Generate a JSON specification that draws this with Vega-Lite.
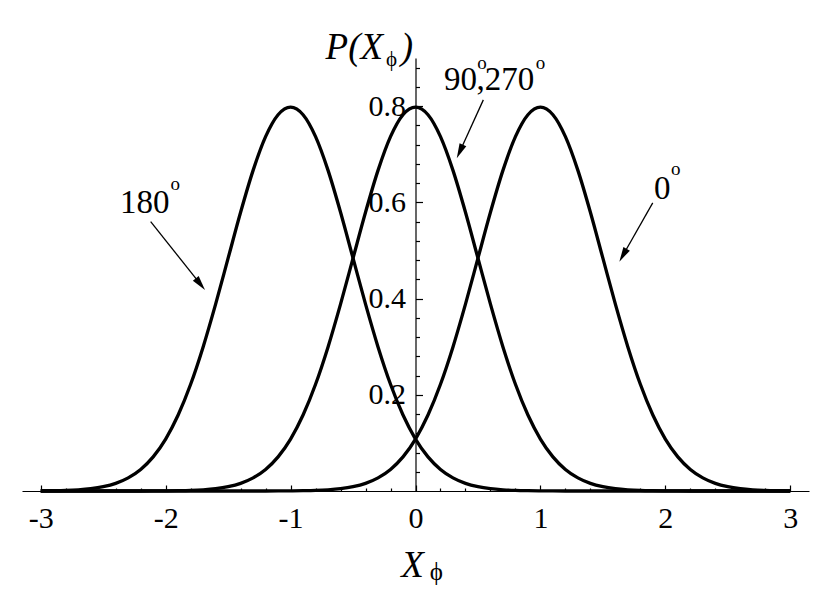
{
  "$schema": "https://vega.github.io/schema/vega-lite/v6.json",
  "width": 787,
  "height": 433,
  "autosize": {"type": "none"},
  "padding": {"left": 22, "top": 58, "right": 21, "bottom": 105},
  "background": "white",
  "config": {
    "view": {"stroke": null},
    "font": "Liberation Serif",
    "axis": {"domainColor": "black", "tickColor": "black", "labelColor": "black", "domainWidth": 1.2, "tickWidth": 1.2, "labelFont": "Liberation Serif", "labelFontSize": 30, "grid": false}
  },
  "datasets": {
    "curves": [
      {"x": -3.0, "a": 0.0003, "b": 0, "c": 0},
      {"x": -2.9, "a": 0.0006, "b": 0, "c": 0},
      {"x": -2.8, "a": 0.0012, "b": 0, "c": 0},
      {"x": -2.7, "a": 0.0025, "b": 0, "c": 0},
      {"x": -2.6, "a": 0.0048, "b": 0, "c": 0},
      {"x": -2.5, "a": 0.0089, "b": 0, "c": 0},
      {"x": -2.4, "a": 0.0158, "b": 0, "c": 0},
      {"x": -2.3, "a": 0.0272, "b": 0, "c": 0},
      {"x": -2.2, "a": 0.0448, "b": 0, "c": 0},
      {"x": -2.1, "a": 0.0709, "b": 0.0001, "c": 0},
      {"x": -2.0, "a": 0.1080, "b": 0.0003, "c": 0},
      {"x": -1.9, "a": 0.1579, "b": 0.0006, "c": 0},
      {"x": -1.8, "a": 0.2218, "b": 0.0012, "c": 0},
      {"x": -1.7, "a": 0.2995, "b": 0.0025, "c": 0},
      {"x": -1.6, "a": 0.3884, "b": 0.0048, "c": 0},
      {"x": -1.5, "a": 0.4839, "b": 0.0089, "c": 0},
      {"x": -1.4, "a": 0.5794, "b": 0.0158, "c": 0},
      {"x": -1.3, "a": 0.6664, "b": 0.0272, "c": 0},
      {"x": -1.2, "a": 0.7365, "b": 0.0448, "c": 0},
      {"x": -1.1, "a": 0.7821, "b": 0.0709, "c": 0.0001},
      {"x": -1.0, "a": 0.7979, "b": 0.1080, "c": 0.0003},
      {"x": -0.9, "a": 0.7821, "b": 0.1579, "c": 0.0006},
      {"x": -0.8, "a": 0.7365, "b": 0.2218, "c": 0.0012},
      {"x": -0.7, "a": 0.6664, "b": 0.2995, "c": 0.0025},
      {"x": -0.6, "a": 0.5794, "b": 0.3884, "c": 0.0048},
      {"x": -0.5, "a": 0.4839, "b": 0.4839, "c": 0.0089},
      {"x": -0.4, "a": 0.3884, "b": 0.5794, "c": 0.0158},
      {"x": -0.3, "a": 0.2995, "b": 0.6664, "c": 0.0272},
      {"x": -0.2, "a": 0.2218, "b": 0.7365, "c": 0.0448},
      {"x": -0.1, "a": 0.1579, "b": 0.7821, "c": 0.0709},
      {"x": 0.0, "a": 0.1080, "b": 0.7979, "c": 0.1080},
      {"x": 0.1, "a": 0.0709, "b": 0.7821, "c": 0.1579},
      {"x": 0.2, "a": 0.0448, "b": 0.7365, "c": 0.2218},
      {"x": 0.3, "a": 0.0272, "b": 0.6664, "c": 0.2995},
      {"x": 0.4, "a": 0.0158, "b": 0.5794, "c": 0.3884},
      {"x": 0.5, "a": 0.0089, "b": 0.4839, "c": 0.4839},
      {"x": 0.6, "a": 0.0048, "b": 0.3884, "c": 0.5794},
      {"x": 0.7, "a": 0.0025, "b": 0.2995, "c": 0.6664},
      {"x": 0.8, "a": 0.0012, "b": 0.2218, "c": 0.7365},
      {"x": 0.9, "a": 0.0006, "b": 0.1579, "c": 0.7821},
      {"x": 1.0, "a": 0.0003, "b": 0.1080, "c": 0.7979},
      {"x": 1.1, "a": 0.0001, "b": 0.0709, "c": 0.7821},
      {"x": 1.2, "a": 0, "b": 0.0448, "c": 0.7365},
      {"x": 1.3, "a": 0, "b": 0.0272, "c": 0.6664},
      {"x": 1.4, "a": 0, "b": 0.0158, "c": 0.5794},
      {"x": 1.5, "a": 0, "b": 0.0089, "c": 0.4839},
      {"x": 1.6, "a": 0, "b": 0.0048, "c": 0.3884},
      {"x": 1.7, "a": 0, "b": 0.0025, "c": 0.2995},
      {"x": 1.8, "a": 0, "b": 0.0012, "c": 0.2218},
      {"x": 1.9, "a": 0, "b": 0.0006, "c": 0.1579},
      {"x": 2.0, "a": 0, "b": 0.0003, "c": 0.1080},
      {"x": 2.1, "a": 0, "b": 0.0001, "c": 0.0709},
      {"x": 2.2, "a": 0, "b": 0, "c": 0.0448},
      {"x": 2.3, "a": 0, "b": 0, "c": 0.0272},
      {"x": 2.4, "a": 0, "b": 0, "c": 0.0158},
      {"x": 2.5, "a": 0, "b": 0, "c": 0.0089},
      {"x": 2.6, "a": 0, "b": 0, "c": 0.0048},
      {"x": 2.7, "a": 0, "b": 0, "c": 0.0025},
      {"x": 2.8, "a": 0, "b": 0, "c": 0.0012},
      {"x": 2.9, "a": 0, "b": 0, "c": 0.0006},
      {"x": 3.0, "a": 0, "b": 0, "c": 0.0003}
    ],
    "arrows": [
      {"id": "180", "x0": -2.120, "y0": 0.560, "x1": -1.722, "y1": 0.430},
      {"id": "0", "x0": 1.899, "y0": 0.599, "x1": 1.661, "y1": 0.490},
      {"id": "90", "x0": 0.543, "y0": 0.813, "x1": 0.355, "y1": 0.7056}
    ],
    "texts": [
      {"kind": "num", "t": "180", "x": -2.366, "y": 0.5773},
      {"kind": "num", "t": "0", "x": 1.910, "y": 0.6065},
      {"kind": "num", "t": "90", "x": 0.228, "y": 0.8337},
      {"kind": "num", "t": ",270", "x": 0.488, "y": 0.8337},
      {"kind": "deg", "t": "o", "x": -1.962, "y": 0.6258},
      {"kind": "deg", "t": "o", "x": 2.046, "y": 0.657},
      {"kind": "deg", "t": "o", "x": 0.494, "y": 0.8773},
      {"kind": "deg", "t": "o", "x": 0.962, "y": 0.8773},
      {"kind": "ital", "t": "P(X", "x": -0.720, "y": 0.898},
      {"kind": "ital", "t": ")", "x": -0.118, "y": 0.898},
      {"kind": "ital", "t": "X", "x": -0.115, "y": -0.178},
      {"kind": "subtop", "t": "ϕ", "x": -0.236, "y": 0.8836},
      {"kind": "subbot", "t": "ϕ", "x": 0.114, "y": -0.185}
    ]
  },
  "resolve": {"axis": {"x": "independent", "y": "independent"}},
  "layer": [
    {
      "data": {"name": "curves"},
      "transform": [{"fold": ["a", "b", "c"], "as": ["curve", "p"]}],
      "mark": {"type": "line", "color": "black", "strokeWidth": 3.3, "interpolate": "monotone"},
      "encoding": {
        "x": {"field": "x", "type": "quantitative", "scale": {"domain": [-3.15, 3.15], "nice": false, "zero": false},
          "axis": {"orient": "bottom", "title": null, "values": [-3, -2, -1, 0, 1, 2, 3], "tickSize": -6, "labelPadding": 18, "labelFlush": false, "labelOverlap": false, "labelFont": "Times New Roman, Liberation Serif, serif",
            "labelExpr": "datum.value < 0 ? '-' + abs(datum.value) : '' + datum.value"}},
        "y": {"field": "p", "type": "quantitative", "scale": {"domain": [0, 0.9], "nice": false, "zero": false},
          "axis": {"orient": "left", "title": null, "offset": -393.5, "values": [0.2, 0.4, 0.6, 0.8], "tickSize": -7, "labelPadding": 17, "labelAlign": "right", "labelBaseline": "middle", "labelFlush": false, "labelOverlap": false, "format": ".1f", "labelFont": "Times New Roman, Liberation Serif, serif"}},
        "detail": {"field": "curve"}
      }
    },
    {
      "data": {"name": "arrows"},
      "mark": {"type": "rule", "color": "black", "strokeWidth": 1.3},
      "encoding": {
        "x": {"field": "x0", "type": "quantitative",
          "axis": {"orient": "bottom", "title": null, "values": [-2.8, -2.6, -2.4, -2.2, -1.8, -1.6, -1.4, -1.2, -0.8, -0.6, -0.4, -0.2, 0.2, 0.4, 0.6, 0.8, 1.2, 1.4, 1.6, 1.8, 2.2, 2.4, 2.6, 2.8], "tickSize": -3, "labels": false, "domain": false}},
        "y": {"field": "y0", "type": "quantitative",
          "axis": {"orient": "left", "title": null, "offset": -393.5, "values": [0.04, 0.08, 0.12, 0.16, 0.24, 0.28, 0.32, 0.36, 0.44, 0.48, 0.52, 0.56, 0.64, 0.68, 0.72, 0.76, 0.84, 0.88], "tickSize": -4, "labels": false, "domain": false}},
        "x2": {"field": "x1"},
        "y2": {"field": "y1"}
      }
    },
    {
      "data": {"name": "arrows"},
      "transform": [{"filter": "datum.id == '180'"}],
      "mark": {"type": "point", "shape": "M0,-1L-0.5,1L0.5,1Z", "filled": true, "color": "black", "opacity": 1, "size": 220, "angle": 141.5},
      "encoding": {
        "x": {"field": "x1", "type": "quantitative", "axis": null},
        "y": {"field": "y1", "type": "quantitative", "axis": null}
      }
    },
    {
      "data": {"name": "arrows"},
      "transform": [{"filter": "datum.id == '0'"}],
      "mark": {"type": "point", "shape": "M0,-1L-0.5,1L0.5,1Z", "filled": true, "color": "black", "opacity": 1, "size": 220, "angle": 209.5},
      "encoding": {
        "x": {"field": "x1", "type": "quantitative", "axis": null},
        "y": {"field": "y1", "type": "quantitative", "axis": null}
      }
    },
    {
      "data": {"name": "arrows"},
      "transform": [{"filter": "datum.id == '90'"}],
      "mark": {"type": "point", "shape": "M0,-1L-0.5,1L0.5,1Z", "filled": true, "color": "black", "opacity": 1, "size": 220, "angle": 204.5},
      "encoding": {
        "x": {"field": "x1", "type": "quantitative", "axis": null},
        "y": {"field": "y1", "type": "quantitative", "axis": null}
      }
    },
    {
      "data": {"name": "texts"},
      "transform": [{"filter": "datum.kind == 'num'"}],
      "mark": {"type": "text", "font": "Times New Roman, Liberation Serif, serif", "fontSize": 33, "align": "left", "baseline": "alphabetic", "color": "black"},
      "encoding": {
        "x": {"field": "x", "type": "quantitative", "axis": null},
        "y": {"field": "y", "type": "quantitative", "axis": null},
        "text": {"field": "t"}
      }
    },
    {
      "data": {"name": "texts"},
      "transform": [{"filter": "datum.kind == 'deg'"}],
      "mark": {"type": "text", "font": "Times New Roman, Liberation Serif, serif", "fontSize": 19, "align": "left", "baseline": "alphabetic", "color": "black"},
      "encoding": {
        "x": {"field": "x", "type": "quantitative", "axis": null},
        "y": {"field": "y", "type": "quantitative", "axis": null},
        "text": {"field": "t"}
      }
    },
    {
      "data": {"name": "texts"},
      "transform": [{"filter": "datum.kind == 'ital'"}],
      "mark": {"type": "text", "font": "Times New Roman, Liberation Serif, serif", "fontSize": 37, "fontStyle": "italic", "align": "left", "baseline": "alphabetic", "color": "black"},
      "encoding": {
        "x": {"field": "x", "type": "quantitative", "axis": null},
        "y": {"field": "y", "type": "quantitative", "axis": null},
        "text": {"field": "t"}
      }
    },
    {
      "data": {"name": "texts"},
      "transform": [{"filter": "datum.kind == 'subtop'"}],
      "mark": {"type": "text", "font": "Times New Roman, Liberation Serif, serif", "fontSize": 21, "align": "left", "baseline": "alphabetic", "color": "black"},
      "encoding": {
        "x": {"field": "x", "type": "quantitative", "axis": null},
        "y": {"field": "y", "type": "quantitative", "axis": null},
        "text": {"field": "t"}
      }
    },
    {
      "data": {"name": "texts"},
      "transform": [{"filter": "datum.kind == 'subbot'"}],
      "mark": {"type": "text", "font": "Times New Roman, Liberation Serif, serif", "fontSize": 25, "align": "left", "baseline": "alphabetic", "color": "black"},
      "encoding": {
        "x": {"field": "x", "type": "quantitative", "axis": null},
        "y": {"field": "y", "type": "quantitative", "axis": null},
        "text": {"field": "t"}
      }
    }
  ]
}
